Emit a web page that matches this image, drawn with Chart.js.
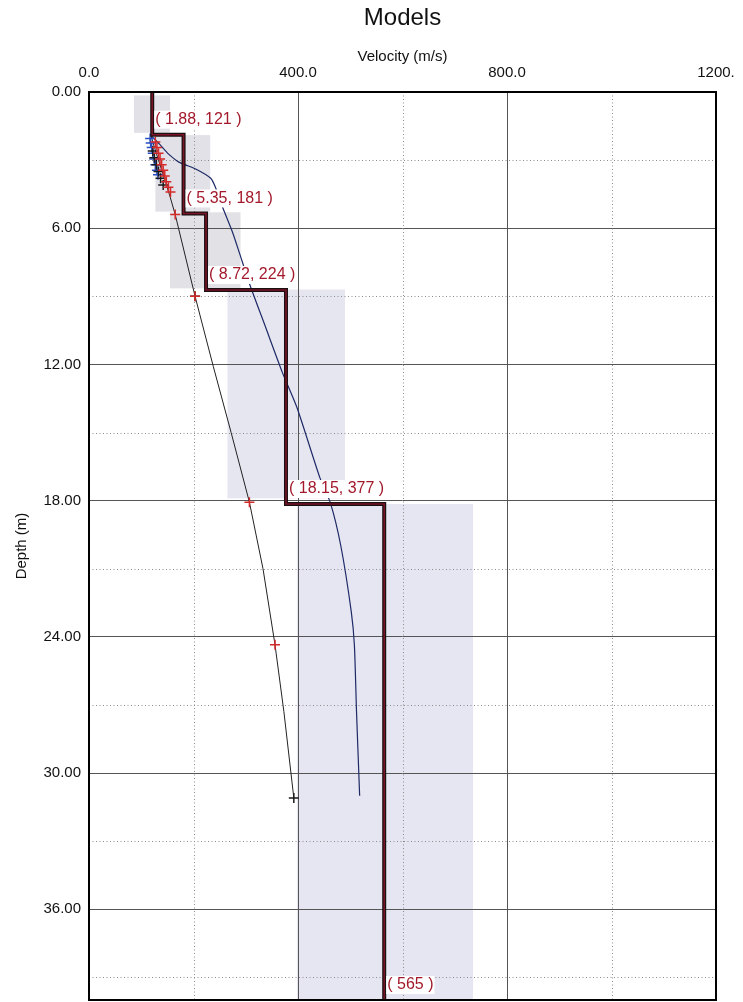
<!DOCTYPE html>
<html>
<head>
<meta charset="utf-8">
<title>Models</title>
<script src="https://cdn.jsdelivr.net/npm/chart.js@4.4.1/dist/chart.umd.min.js"></script>
<style>
  html, body { margin: 0; padding: 0; background: #fff; }
</style>
</head>
<body>
<canvas id="models" width="743" height="1002"></canvas>
<script>
"use strict";

// Layered model: bottom depth of each layer (m) and its velocity (m/s)
const layerBottoms = [1.88, 5.35, 8.72, 18.15, 40];
const layerVel     = [121, 181, 224, 377, 565];

// Shaded search ranges for each layer
const boxVelMin = [86, 127, 155, 265, 398];
const boxVelMax = [155, 232, 290, 490, 735];
const boxTop    = [0.15, 1.9, 5.3, 8.7, 18.15];
const boxBottom = [1.8, 5.27, 8.65, 17.9, 40];
const boxColors = ["#e1e1e7", "#e1e1e7", "#e1e1e6", "#e6e6f1", "#e6e6f2"];

// Thin dark-blue curve
const curveDepth = [1.95, 2.3, 2.75, 3.1, 3.4, 3.8, 4.2, 4.75, 6.2, 7.1, 8.5, 10.3, 12.35, 13.9, 17.0, 18.1, 20.0, 22.9, 24.4, 27.3, 31.0];
const curveVel   = [120, 135, 153, 173, 205, 233, 242, 250, 275, 288, 308, 337, 370, 398, 442, 462, 482, 502, 508, 512, 518];

// Thin black line through the "+" markers
const fitDepth = [1.95, 2.5, 3.0, 3.5, 4.0, 4.6, 5.4, 9.0, 12.1, 15.0, 18.07, 21.0, 24.35, 27.3, 31.1];
const fitVel   = [119, 126, 133, 140, 147, 155, 165, 203, 238, 272, 307, 333, 356, 373, 392];

// "+" markers
const blueDepth  = [2.05, 2.25, 2.45, 2.7, 2.95, 3.2, 3.45, 3.65];
const blueVel    = [117, 118, 120, 122, 125, 127, 130, 132];
const redDepth   = [2.2, 2.45, 2.7, 2.95, 3.2, 3.45, 3.7, 3.95, 4.2, 4.4, 5.4, 9.0, 18.07, 24.35];
const redVel     = [127, 130, 133, 136, 139, 142, 145, 148, 152, 156, 165, 203, 307, 356];
const blackDepth = [2.6, 2.9, 3.2, 3.5, 3.8, 4.1, 9.0, 31.1];
const blackVel   = [122, 125, 129, 133, 137, 142, 203, 392];

// Axes
const xTicks      = [0, 400, 800, 1200];
const xTickLabels = ["0.0", "400.0", "800.0", "1200."];
const xMinor      = [200, 600, 1000];
const yTicks      = [0, 6, 12, 18, 24, 30, 36];
const yTickLabels = ["0.00", "6.00", "12.00", "18.00", "24.00", "30.00", "36.00"];
const yMinor      = [3, 9, 15, 21, 27, 33, 39];

const FONT = "'Liberation Sans', Arial, sans-serif";
Chart.defaults.font.family = FONT;
Chart.defaults.color = "#111";

const pts = (depths, vels) => depths.map((d, i) => ({ x: vels[i], y: d }));

// step profile built from the layer arrays
function stepPoints() {
  const out = [];
  let top = 0;
  layerVel.forEach((v, i) => {
    out.push({ x: v, y: top });
    out.push({ x: v, y: layerBottoms[i] });
    top = layerBottoms[i];
  });
  return out;
}

const shadedBoxes = {
  id: "shadedBoxes",
  beforeDraw(chart) {
    const { ctx, scales: { x, y } } = chart;
    ctx.save();
    boxVelMin.forEach((v0, i) => {
      const x0 = x.getPixelForValue(v0), x1 = x.getPixelForValue(boxVelMax[i]);
      const y0 = y.getPixelForValue(boxTop[i]), y1 = y.getPixelForValue(boxBottom[i]);
      ctx.fillStyle = boxColors[i];
      ctx.fillRect(x0, y0, x1 - x0, y1 - y0);
    });
    ctx.restore();
  },
};

const minorGrid = {
  id: "minorGrid",
  beforeDatasetsDraw(chart) {
    const { ctx, chartArea: a, scales: { x, y } } = chart;
    ctx.save();
    ctx.strokeStyle = "#8c8c8c";
    ctx.lineWidth = 1;
    ctx.setLineDash([1, 2.5]);
    xMinor.forEach(v => {
      const px = Math.round(x.getPixelForValue(v)) + 0.5;
      ctx.beginPath(); ctx.moveTo(px, a.top); ctx.lineTo(px, a.bottom); ctx.stroke();
    });
    yMinor.forEach(v => {
      const py = Math.round(y.getPixelForValue(v)) + 0.5;
      ctx.beginPath(); ctx.moveTo(a.left, py); ctx.lineTo(a.right, py); ctx.stroke();
    });
    ctx.restore();
  },
};

const frameAndLabels = {
  id: "frameAndLabels",
  afterDatasetsDraw(chart) {
    const { ctx, chartArea: a, scales: { x, y } } = chart;
    ctx.save();
    ctx.strokeStyle = "#000";
    ctx.lineWidth = 2;
    ctx.strokeRect(a.left, a.top, a.right - a.left, a.bottom - a.top);

    ctx.font = "16px " + FONT;
    ctx.textBaseline = "middle";
    layerBottoms.forEach((d, i) => {
      const last = i === layerBottoms.length - 1;
      const txt = last ? `( ${layerVel[i]} )` : `( ${d.toFixed(2)}, ${layerVel[i]} )`;
      const tx = x.getPixelForValue(layerVel[i]) + 3;
      const ty = y.getPixelForValue(d) - 15;
      const w = ctx.measureText(txt).width;
      ctx.fillStyle = "#fff";
      ctx.fillRect(tx - 1, ty - 9, w + 2, 18);
      ctx.fillStyle = "#a3192c";
      ctx.fillText(txt, tx, ty);
    });
    ctx.restore();
  },
};

new Chart(document.getElementById("models"), {
  type: "scatter",
  data: {
    datasets: [
      {
        label: "Model (core)",
        data: stepPoints(),
        showLine: true,
        borderColor: "#7a1426",
        borderWidth: 1.5,
        pointRadius: 0,
        order: 0,
      },
      {
        label: "Model",
        data: stepPoints(),
        showLine: true,
        borderColor: "#1a0f12",
        borderWidth: 4,
        pointRadius: 0,
        order: 1,
      },
      {
        label: "Red",
        data: pts(redDepth, redVel),
        pointStyle: "cross",
        pointRadius: 5,
        borderColor: "#d42a2a",
        borderWidth: 1.5,
        order: 2,
      },
      {
        label: "Black",
        data: pts(blackDepth, blackVel),
        pointStyle: "cross",
        pointRadius: 5,
        borderColor: "#1a1a1a",
        borderWidth: 1.5,
        order: 3,
      },
      {
        label: "Blue",
        data: pts(blueDepth, blueVel),
        pointStyle: "cross",
        pointRadius: 5,
        borderColor: "#2a4fc4",
        borderWidth: 1.5,
        order: 4,
      },
      {
        label: "Fit line",
        data: pts(fitDepth, fitVel),
        showLine: true,
        borderColor: "#222",
        borderWidth: 1,
        pointRadius: 0,
        order: 5,
      },
      {
        label: "Curve",
        data: pts(curveDepth, curveVel),
        showLine: true,
        borderColor: "#1e2a66",
        borderWidth: 1.2,
        pointRadius: 0,
        tension: 0.2,
        order: 6,
      },
    ],
  },
  options: {
    responsive: false,
    animation: false,
    events: [],
    layout: { autoPadding: false, padding: { left: 8, right: 27, top: 0, bottom: 2 } },
    plugins: {
      legend: { display: false },
      tooltip: { enabled: false },
      title: {
        display: true,
        text: "Models",
        fullSize: false,
        color: "#111",
        font: { size: 24, weight: "normal", family: FONT },
        padding: { top: 4, bottom: 4 },
      },
    },
    scales: {
      x: {
        type: "linear",
        position: "top",
        min: 0,
        max: 1200,
        afterBuildTicks: s => { s.ticks = xTicks.map(v => ({ value: v })); },
        afterFit: s => { s.height = 55.2; s.paddingLeft = 0; s.paddingRight = 0; },
        ticks: {
          padding: 10,
          maxRotation: 0,
          color: "#111",
          font: { size: 15 },
          callback: (v, i) => xTickLabels[i],
        },
        grid: { color: "#555", lineWidth: 1, drawTicks: false },
        border: { display: false },
        title: {
          display: true,
          text: "Velocity (m/s)",
          color: "#111",
          font: { size: 15 },
          padding: { top: 11, bottom: 0 },
        },
      },
      y: {
        type: "linear",
        reverse: true,
        min: 0,
        max: 40,
        afterBuildTicks: s => { s.ticks = yTicks.map(v => ({ value: v })); },
        afterFit: s => { s.width = 81; s.paddingTop = 0; s.paddingBottom = 0; },
        ticks: {
          padding: 8,
          color: "#111",
          font: { size: 15 },
          callback: (v, i) => yTickLabels[i],
        },
        grid: { color: "#555", lineWidth: 1, drawTicks: false },
        border: { display: false },
        title: {
          display: true,
          text: "Depth (m)",
          color: "#111",
          font: { size: 15 },
          padding: { top: 5, bottom: 0 },
        },
      },
    },
  },
  plugins: [shadedBoxes, minorGrid, frameAndLabels],
});
</script>
</body>
</html>
